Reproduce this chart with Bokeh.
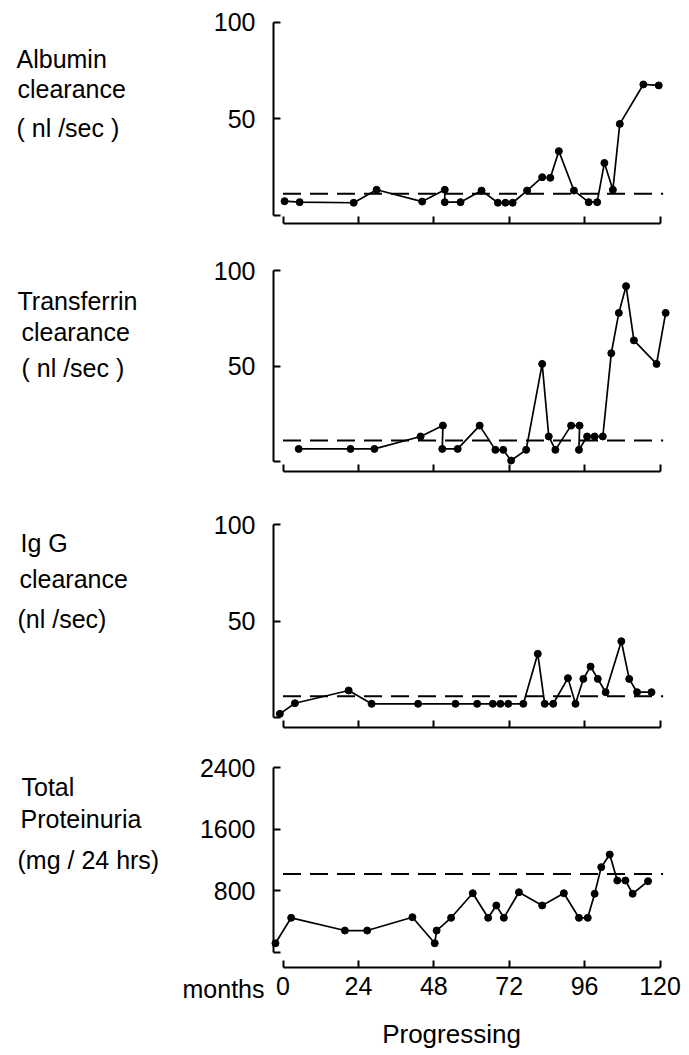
from bokeh.plotting import figure
from bokeh.layouts import column
from bokeh.models import FixedTicker, Range1d, LinearAxis
from bokeh.core.properties import value
from bokeh.embed import file_html
from bokeh.resources import INLINE

# ---------------- data ----------------
albumin_months = [0.5, 5.3, 22.5, 29.8, 44.3, 51.5, 51.5, 56.5, 63.2, 68.4, 70.8, 73.1,
                  77.7, 82.5, 85.1, 87.8, 92.6, 97.3, 100.0, 102.3, 105.0, 107.2, 114.7, 119.6]
albumin = [7.4, 6.9, 6.6, 13.3, 7.2, 13.3, 6.9, 6.9, 12.9, 6.6, 6.6, 6.6,
           12.9, 19.8, 19.5, 33.3, 12.9, 6.9, 6.9, 27.2, 13.3, 47.4, 67.8, 67.3]

transferrin_months = [5.0, 21.5, 29.1, 43.8, 50.9, 50.7, 55.6, 62.6, 67.6, 70.1, 72.6, 77.4,
                      82.5, 84.6, 86.7, 91.7, 94.4, 94.2, 96.8, 99.2, 101.8, 104.5, 106.9,
                      109.2, 111.7, 118.9, 121.8]
transferrin = [6.6, 6.6, 6.6, 13.1, 18.8, 6.6, 6.6, 18.8, 6.1, 6.1, 0.5, 6.1,
               51.1, 13.1, 6.1, 18.8, 18.8, 6.1, 13.1, 13.1, 13.1, 56.7, 77.8,
               91.8, 63.4, 51.1, 77.8]

igg_months = [-1.0, 3.8, 20.9, 28.2, 43.0, 54.9, 61.8, 66.8, 69.2, 71.7, 76.5, 81.1,
              83.3, 86.0, 90.7, 93.1, 95.6, 97.9, 100.2, 102.7, 107.7, 110.2, 112.7, 117.3]
igg = [1.9, 7.4, 14.0, 7.1, 7.1, 7.1, 7.1, 7.1, 7.1, 7.1, 7.1, 33.0,
       7.1, 7.1, 20.4, 7.1, 20.0, 26.4, 20.0, 13.1, 39.5, 20.0, 13.1, 13.1]

protein_months = [-2.4, 2.6, 19.7, 26.8, 41.2, 48.3, 48.9, 53.5, 60.4, 65.3, 67.9, 70.3,
                  75.1, 82.5, 89.4, 94.2, 97.0, 99.2, 101.3, 104.0, 106.4, 109.0, 111.3, 116.2]
protein = [120, 450, 285, 285, 458, 120, 285, 450, 769, 450, 610, 450,
           782, 610, 769, 450, 450, 762, 1107, 1271, 934, 934, 762, 925]

normal_limits = [11.2, 11.0, 11.0, 1020]
limit_months = [0, 121]

month_ticks = [0, 24, 48, 72, 96, 120]
clearance_ticks = [0, 50, 100]
protein_ticks = [0, 800, 1600, 2400]

panel_titles = [
    ["Albumin", "clearance", "( nl /sec )"],
    ["Transferrin", "clearance", "( nl /sec )"],
    ["Ig G", "clearance", "(nl /sec)"],
    ["Total", "Proteinuria", "(mg / 24 hrs)"],
]

# ---------------- layout constants (pixels) ----------------
FONT = "Liberation Sans"
W = 689
X_ZERO_PX = 282.5            # pixel of month 0
PX_PER_MONTH = 377.0 / 120   # 0 -> 282.5, 120 -> 659.5
YAXIS_PX = 273
TEXT_SHIFT = 10              # renderer places alphabetic baseline ~10px low
XS = -X_ZERO_PX / PX_PER_MONTH
XE = XS + W / PX_PER_MONTH

panels = [
    # fig top/bottom (abs px), pixel of top tick, pixel of zero, pixel of x axis
    dict(top=0, bottom=239, hi_px=21.7, zero_px=215, xaxis_px=223),
    dict(top=239, bottom=487, hi_px=270, zero_px=461, xaxis_px=471),
    dict(top=487, bottom=743, hi_px=524, zero_px=717, xaxis_px=727),
    dict(top=743, bottom=1055, hi_px=767, zero_px=952, xaxis_px=967),
]
title_pos = [
    [(16, 68), (17, 98), (16, 137)],
    [(17, 310), (21, 341), (21, 377)],
    [(20, 552), (19, 588), (17, 628)],
    [(21, 796), (20, 828), (17, 869)],
]

series = [
    (albumin_months, albumin, clearance_ticks),
    (transferrin_months, transferrin, clearance_ticks),
    (igg_months, igg, clearance_ticks),
    (protein_months, protein, protein_ticks),
]


def xdata(px):
    return (px - X_ZERO_PX) / PX_PER_MONTH


figs = []
for i, (spec, (mx, vals, yticks)) in enumerate(zip(panels, series)):
    last = i == len(panels) - 1
    hi = yticks[-1]
    ppu = (spec["zero_px"] - spec["hi_px"]) / hi

    def ydata(py, spec=spec, ppu=ppu):
        return (spec["zero_px"] - py) / ppu

    h = spec["bottom"] - spec["top"]
    ys = ydata(spec["bottom"])
    ye = ydata(spec["top"])

    p = figure(width=W, height=h, x_range=Range1d(XS, XE), y_range=Range1d(ys, ye),
               output_backend="svg", toolbar_location=None, min_border=0,
               x_axis_type=None, y_axis_type=None)
    p.outline_line_color = None
    p.background_fill_color = "white"
    p.border_fill_color = "white"

    xaxis = LinearAxis(ticker=FixedTicker(ticks=month_ticks), bounds=(0, 120),
                       fixed_location=ydata(spec["xaxis_px"]))
    yaxis = LinearAxis(ticker=FixedTicker(ticks=yticks), bounds=(yticks[0], yticks[-1]),
                       fixed_location=xdata(YAXIS_PX),
                       major_label_overrides={yticks[0]: ""})
    for ax in (xaxis, yaxis):
        ax.axis_line_color = "black"
        ax.axis_line_width = 2
        ax.major_tick_line_color = "black"
        ax.major_tick_line_width = 2
        ax.major_tick_in = 7
        ax.major_tick_out = 0
        ax.minor_tick_in = 0
        ax.minor_tick_out = 0
        ax.major_label_text_font = FONT
        ax.major_label_text_font_size = "25px"
        ax.major_label_text_color = "black"
    yaxis.major_label_standoff = 18
    xaxis.major_label_standoff = 9
    if not last:
        xaxis.major_label_overrides = {t: "" for t in month_ticks}
    p.add_layout(xaxis, "below")
    p.add_layout(yaxis, "left")

    # normal upper limit (dashed)
    p.line(limit_months, [normal_limits[i]] * 2, line_color="black", line_width=2,
           line_dash="18 9")
    # data
    p.line(mx, vals, line_color="black", line_width=1.7)
    p.scatter(mx, vals, size=7, fill_color="black", line_color="black")

    # panel titles on the left
    tx = [xdata(px) for px, _ in title_pos[i]]
    ty = [ydata(py - TEXT_SHIFT) for _, py in title_pos[i]]
    p.text(x=tx, y=ty, text=panel_titles[i], text_font=value(FONT),
           text_font_size=value("25px"), text_color="black",
           text_baseline="alphabetic", text_align="left")
    if last:
        p.text(x=[xdata(264)], y=[ydata(998 - TEXT_SHIFT)], text=["months"],
               text_font=value(FONT), text_font_size=value("25px"), text_color="black",
               text_baseline="alphabetic", text_align="right")
        p.text(x=[xdata(451)], y=[ydata(1043 - TEXT_SHIFT)], text=["Progressing"],
               text_font=value(FONT), text_font_size=value("26px"), text_color="black",
               text_baseline="alphabetic", text_align="center")
    figs.append(p)

layout = column(*figs, spacing=0)
open("out.html", "w").write(file_html(layout, INLINE))
